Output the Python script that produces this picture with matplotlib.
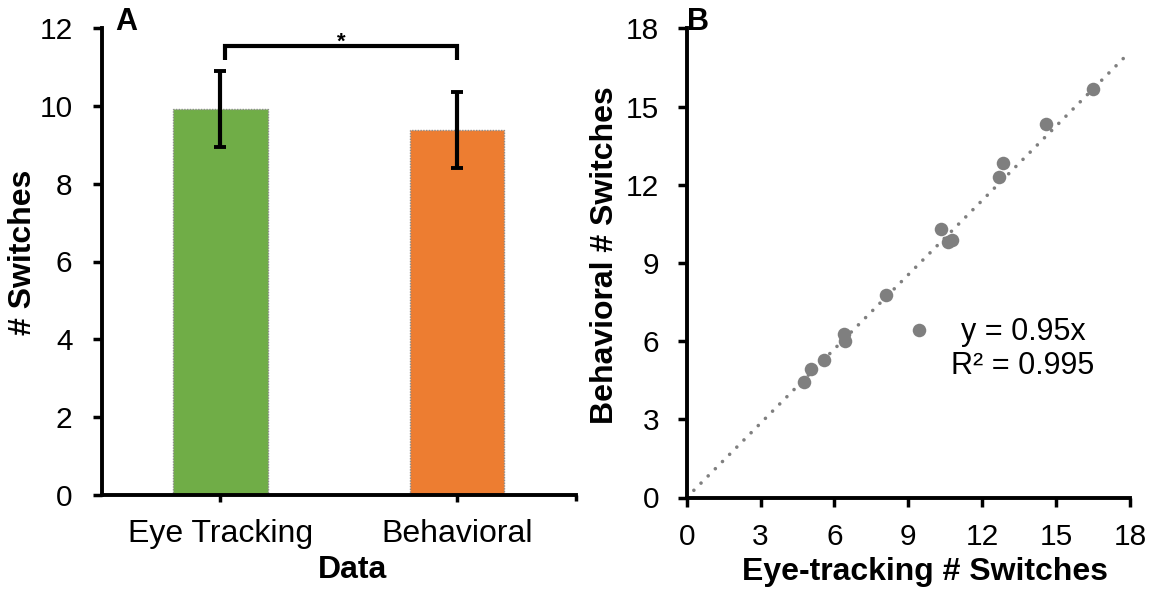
import matplotlib
matplotlib.use("Agg")
import matplotlib.pyplot as plt
from matplotlib.ticker import MultipleLocator, FixedLocator

plt.rcParams['font.family'] = ['Liberation Sans', 'DejaVu Sans']

# Panel A: mean number of switches by data source
categories = ["Eye Tracking", "Behavioral"]
means = [9.92, 9.37]
errors = [0.98, 0.98]
bar_colors = ["#70AD47", "#ED7D31"]

# Panel B: per-participant switch counts
eye_tracking = [16.49, 14.58, 12.86, 12.70, 10.32, 10.77, 10.63, 8.11, 9.43, 6.38, 6.43, 5.59, 5.05, 4.77]
behavioral = [15.67, 14.33, 12.84, 12.28, 10.31, 9.88, 9.80, 7.76, 6.43, 6.27, 6.01, 5.27, 4.92, 4.43]
slope = 0.95
r_squared = 0.995

W, H = 1155, 590
fig = plt.figure(figsize=(W / 100, H / 100), dpi=100)

def px_axes(left, right, bottom, top):
    return fig.add_axes([left / W, 1 - bottom / H, (right - left) / W, (bottom - top) / H])

TICK = 21.5
CAT = 23
LABEL = 23
SPINE = 2.8
TW = 2.5

# ---------- Panel A ----------
axA = px_axes(102.0, 575.5, 495, 28)
xpos = list(range(len(categories)))
axA.bar(xpos, means, width=0.4, color=bar_colors, edgecolor="#8c8c8c",
        linewidth=1.0, linestyle=(0, (1, 1)), zorder=2)
axA.errorbar(xpos, means, yerr=errors, fmt="none", ecolor="black",
             elinewidth=3.0, capsize=4.3, capthick=2.8, zorder=3)
axA.set_xlim(-0.5, 1.5)
axA.set_ylim(0, 12)
axA.yaxis.set_major_locator(MultipleLocator(2))
axA.set_xticks(xpos)
axA.set_xticklabels(categories, fontsize=CAT)
axA.xaxis.set_minor_locator(FixedLocator([1.5]))
axA.tick_params(axis="x", which="minor", length=4, width=TW)
axA.tick_params(axis="y", which="major", labelsize=TICK, width=TW, length=6.7, pad=14.5)
axA.tick_params(axis="x", which="major", width=TW, length=5, pad=12)
for s in ("top", "right"):
    axA.spines[s].set_visible(False)
for s in ("left", "bottom"):
    axA.spines[s].set_linewidth(SPINE)
axA.set_xlabel("Data", fontsize=LABEL, fontweight="bold")
axA.xaxis.label.set_va("center")
axA.xaxis.set_label_coords(0.528, -0.16)
axA.set_ylabel("# Switches", fontsize=LABEL, fontweight="bold")
axA.yaxis.label.set_va("center")
axA.yaxis.set_label_coords(-0.166, 0.52)

# significance bracket
bx0, bx1, by, bdrop = 0.02, 1.0, 11.55, 0.37
axA.plot([bx0, bx0, bx1, bx1], [by - bdrop, by, by, by - bdrop], color="black",
         lw=3.0, solid_joinstyle="miter", solid_capstyle="butt", clip_on=False)
axA.text((bx0 + bx1) / 2, by - 0.05, "*", ha="center", va="baseline",
         fontsize=16, fontweight="bold")
axA.text(126 / W, 1 - 22 / H, "A", transform=fig.transFigure, ha="center",
         va="center", fontsize=22, fontweight="bold")

# ---------- Panel B ----------
axB = px_axes(686.7, 1130, 497.5, 28.3)
axB.plot([0, 18], [0, slope * 18], color="#7f7f7f", lw=2.6,
         linestyle=(0, (0.01, 2.8)), dash_capstyle="round", zorder=1)
axB.scatter(eye_tracking, behavioral, s=95, color="#7f7f7f", zorder=2, linewidths=0)
axB.set_xlim(0, 18)
axB.set_ylim(0, 18)
axB.xaxis.set_major_locator(MultipleLocator(3))
axB.yaxis.set_major_locator(MultipleLocator(3))
axB.tick_params(axis="both", labelsize=TICK, width=TW, length=6.7)
axB.tick_params(axis="y", pad=13.2)
axB.tick_params(axis="x", pad=12)
for s in ("top", "right"):
    axB.spines[s].set_visible(False)
for s in ("left", "bottom"):
    axB.spines[s].set_linewidth(SPINE)
axB.set_xlabel("Eye-tracking # Switches", fontsize=LABEL, fontweight="bold")
axB.xaxis.label.set_va("center")
axB.xaxis.set_label_coords((925 - 686.7) / 443.3, (497.5 - 572) / 469.2)
axB.set_ylabel("Behavioral # Switches", fontsize=LABEL, fontweight="bold")
axB.yaxis.label.set_va("center")
axB.yaxis.set_label_coords((605 - 686.7) / 443.3, 0.516)
axB.text(13.65, 5.70, f"y = {slope}x\nR² = {r_squared}", ha="center", va="center",
         fontsize=22, linespacing=1.15)
axB.text(698 / W, 1 - 22 / H, "B", transform=fig.transFigure, ha="center",
         va="center", fontsize=22, fontweight="bold")

fig.savefig("out.png", dpi=100)
